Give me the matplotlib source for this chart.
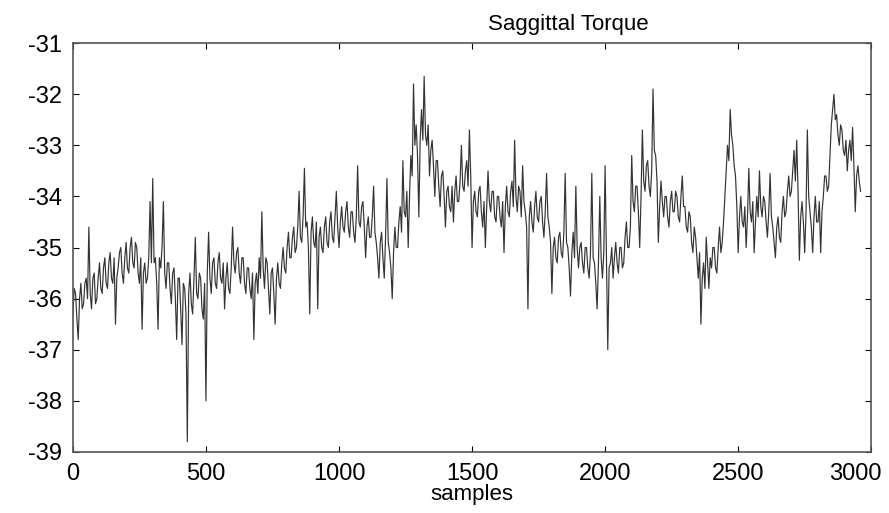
import numpy as np
import matplotlib
matplotlib.use("Agg")
import matplotlib.pyplot as plt
from matplotlib.transforms import ScaledTranslation

# torque readings, one value every 5 samples
torque = [
    -36.3, -35.8, -35.9, -36.4, -36.8, -36.0, -35.7, -36.2, -36.1, -35.7, -35.6, -36.0, -34.6, -35.9, -36.2, -35.6, -35.5, -36.1, -36.0, -35.6,
    -35.3, -35.8, -35.9, -35.4, -35.2, -35.7, -35.8, -35.3, -35.1, -35.6, -35.7, -35.2, -36.5, -35.6, -35.4, -35.1, -35.0, -35.5, -35.7, -35.2,
    -34.9, -35.4, -35.5, -35.0, -34.8, -35.3, -35.4, -34.9, -35.0, -35.5, -35.7, -35.2, -36.6, -35.5, -35.3, -35.7, -35.6, -35.2, -34.1, -35.3,
    -33.65, -35.3, -35.2, -35.7, -36.6, -35.2, -35.4, -35.0, -34.1, -35.5, -35.8, -35.3, -35.3, -35.8, -36.1, -35.5, -35.4, -36.0, -36.8, -35.6,
    -35.6, -36.2, -36.9, -35.7, -35.8, -36.3, -38.8, -35.9, -35.5, -36.1, -36.3, -35.6, -34.8, -35.9, -36.0, -35.5, -35.6, -36.2, -36.4, -35.7,
    -38.0, -35.5, -34.7, -35.6, -35.9, -35.3, -35.2, -35.7, -35.8, -35.3, -35.1, -35.6, -35.7, -35.3, -36.2, -35.6, -35.3, -35.8, -35.9, -35.4,
    -34.6, -35.3, -35.5, -35.1, -35.0, -35.5, -35.7, -35.2, -35.2, -35.7, -35.9, -35.4, -35.4, -35.8, -36.0, -35.5, -36.8, -35.7, -35.5, -35.9,
    -35.2, -35.6, -34.3, -35.4, -35.8, -35.2, -35.3, -35.8, -36.3, -35.5, -35.4, -35.9, -36.5, -35.6, -35.3, -35.7, -35.8, -35.3, -35.0, -35.4,
    -35.5, -35.0, -34.7, -35.2, -35.2, -34.8, -34.6, -35.1, -35.0, -34.6, -33.9, -34.8, -34.9, -34.4, -33.45, -34.6, -34.5, -35.0, -36.3, -34.7,
    -34.4, -34.9, -35.0, -34.5, -36.2, -34.8, -34.6, -35.0, -35.1, -34.6, -34.4, -34.9, -35.0, -34.5, -34.3, -34.8, -34.9, -34.4, -33.9, -34.6,
    -35.0, -34.5, -34.2, -34.6, -34.7, -34.3, -34.1, -34.6, -34.8, -34.3, -34.3, -34.7, -34.9, -34.4, -33.4, -34.5, -34.6, -34.2, -34.1, -34.6,
    -35.2, -34.6, -34.4, -34.8, -34.8, -34.4, -33.8, -34.7, -34.9, -35.2, -35.6, -34.9, -34.7, -35.2, -35.6, -34.8, -33.65, -34.9, -35.1, -35.4,
    -36.0, -35.1, -34.6, -35.0, -35.0, -34.5, -34.2, -34.7, -33.3, -34.3, -34.4, -33.9, -35.0, -34.0, -33.2, -33.6, -31.8, -33.0, -32.6, -33.2,
    -34.4, -32.9, -32.3, -32.9, -31.65, -32.8, -33.0, -32.6, -33.6, -33.1, -32.9, -33.4, -34.0, -33.3, -33.3, -33.8, -34.2, -33.6, -33.5, -34.0,
    -34.6, -33.9, -33.8, -34.2, -34.3, -33.8, -34.5, -33.9, -33.6, -34.1, -34.1, -33.7, -33.0, -33.8, -33.9, -33.5, -33.3, -33.8, -32.7, -33.6,
    -35.0, -34.1, -33.9, -34.3, -34.4, -33.9, -33.8, -34.3, -34.6, -34.1, -35.0, -34.2, -33.5, -34.1, -34.3, -33.9, -33.9, -34.4, -34.5, -34.0,
    -34.0, -34.4, -34.6, -34.1, -35.1, -34.2, -33.8, -34.3, -34.4, -33.9, -33.7, -34.2, -32.9, -34.0, -34.3, -33.8, -33.9, -34.4, -33.4, -34.1,
    -34.3, -34.6, -36.2, -34.4, -34.1, -34.5, -34.7, -34.2, -33.9, -34.4, -34.5, -34.1, -34.0, -34.5, -34.8, -34.3, -33.55, -34.4, -34.6, -34.9,
    -35.9, -35.0, -34.8, -35.2, -35.3, -34.8, -34.7, -35.1, -35.2, -34.7, -33.55, -34.9, -35.0, -35.4, -35.95, -35.1, -34.7, -35.2, -33.8, -35.0,
    -35.4, -35.0, -34.9, -35.3, -35.5, -35.0, -35.0, -35.4, -35.6, -35.1, -33.55, -35.2, -35.3, -35.7, -36.2, -35.3, -34.0, -35.2, -35.6, -35.1,
    -33.4, -35.2, -37.0, -35.4, -35.3, -35.0, -35.6, -35.2, -34.9, -35.3, -35.5, -35.0, -35.0, -35.4, -35.3, -34.8, -34.5, -35.0, -35.0, -34.6,
    -33.2, -34.1, -34.3, -33.8, -33.8, -34.3, -35.0, -34.0, -32.7, -33.7, -33.9, -33.4, -33.3, -33.8, -34.0, -33.5, -31.9, -33.1, -33.2, -33.7,
    -34.9, -34.2, -33.7, -34.1, -34.4, -34.0, -34.0, -34.4, -34.6, -34.1, -33.9, -34.3, -34.3, -33.9, -34.0, -34.4, -34.5, -34.0, -33.6, -34.2,
    -34.2, -34.6, -34.7, -34.3, -34.4, -34.9, -35.1, -34.6, -34.8, -35.2, -35.6, -35.1, -36.5, -35.6, -35.3, -35.8, -34.8, -35.3, -35.8, -35.2,
    -35.4, -35.0, -35.0, -35.4, -35.5, -35.0, -34.6, -35.1, -34.9, -34.5, -34.0, -33.5, -33.0, -33.3, -32.3, -32.8, -33.0, -33.4, -33.6, -34.2,
    -35.1, -34.4, -34.0, -34.5, -34.6, -34.2, -35.0, -34.4, -33.45, -34.3, -34.5, -34.1, -35.1, -34.5, -34.0, -34.4, -33.5, -34.2, -34.4, -34.0,
    -34.1, -34.5, -34.8, -34.3, -33.55, -34.4, -34.6, -34.9, -35.2, -34.6, -34.4, -34.8, -34.9, -34.3, -34.0, -34.4, -34.3, -33.9, -33.6, -34.0,
    -33.9, -33.5, -33.1, -33.7, -32.9, -33.9, -35.25, -34.4, -34.1, -34.5, -35.1, -34.3, -32.7, -34.0, -34.3, -34.6, -35.1, -34.4, -34.0, -34.5,
    -34.5, -34.1, -35.1, -34.3, -34.0, -33.6, -33.6, -33.9, -33.8, -33.2, -32.6, -32.3, -32.0, -32.5, -32.4, -32.8, -33.0, -32.6, -32.7, -33.1,
    -33.2, -32.9, -33.5, -33.1, -32.9, -33.3, -32.65, -33.4, -34.3, -33.6, -33.4, -33.7, -33.9,
]
sample_step = 5
samples = np.arange(len(torque)) * sample_step

x_ticks = [0, 500, 1000, 1500, 2000, 2500, 3000]
y_ticks = [-31, -32, -33, -34, -35, -36, -37, -38, -39]

plt.rcParams['font.family'] = ['Liberation Sans', 'DejaVu Sans']
plt.rcParams['axes.unicode_minus'] = False

fig = plt.figure(figsize=(8.89, 5.13), dpi=100)
ax = fig.add_axes([0.082, 0.119, 0.898, 0.797])

ax.plot(samples, torque, color="#333333", linewidth=0.85)

ax.set_xlim(0, 3000)
ax.set_ylim(-39, -31)
ax.set_xticks(x_ticks)
ax.set_yticks(y_ticks)
ax.tick_params(direction="in", top=True, right=True, length=4, width=0.8,
               labelsize=17, pad=8)
for s in ax.spines.values():
    s.set_color("#555555")
    s.set_linewidth(1.2)

# last x label sits against the page edge in the scan, nudge it left
last = ax.get_xticklabels()[-1]
last.set_transform(last.get_transform() + ScaledTranslation(-0.16, 0, fig.dpi_scale_trans))

ax.set_xlabel("samples", fontsize=16, labelpad=-1)
ax.text(0.62, 1.02, "Saggittal Torque", transform=ax.transAxes,
        ha="center", va="bottom", fontsize=16)

fig.savefig("out.png", dpi=100)
